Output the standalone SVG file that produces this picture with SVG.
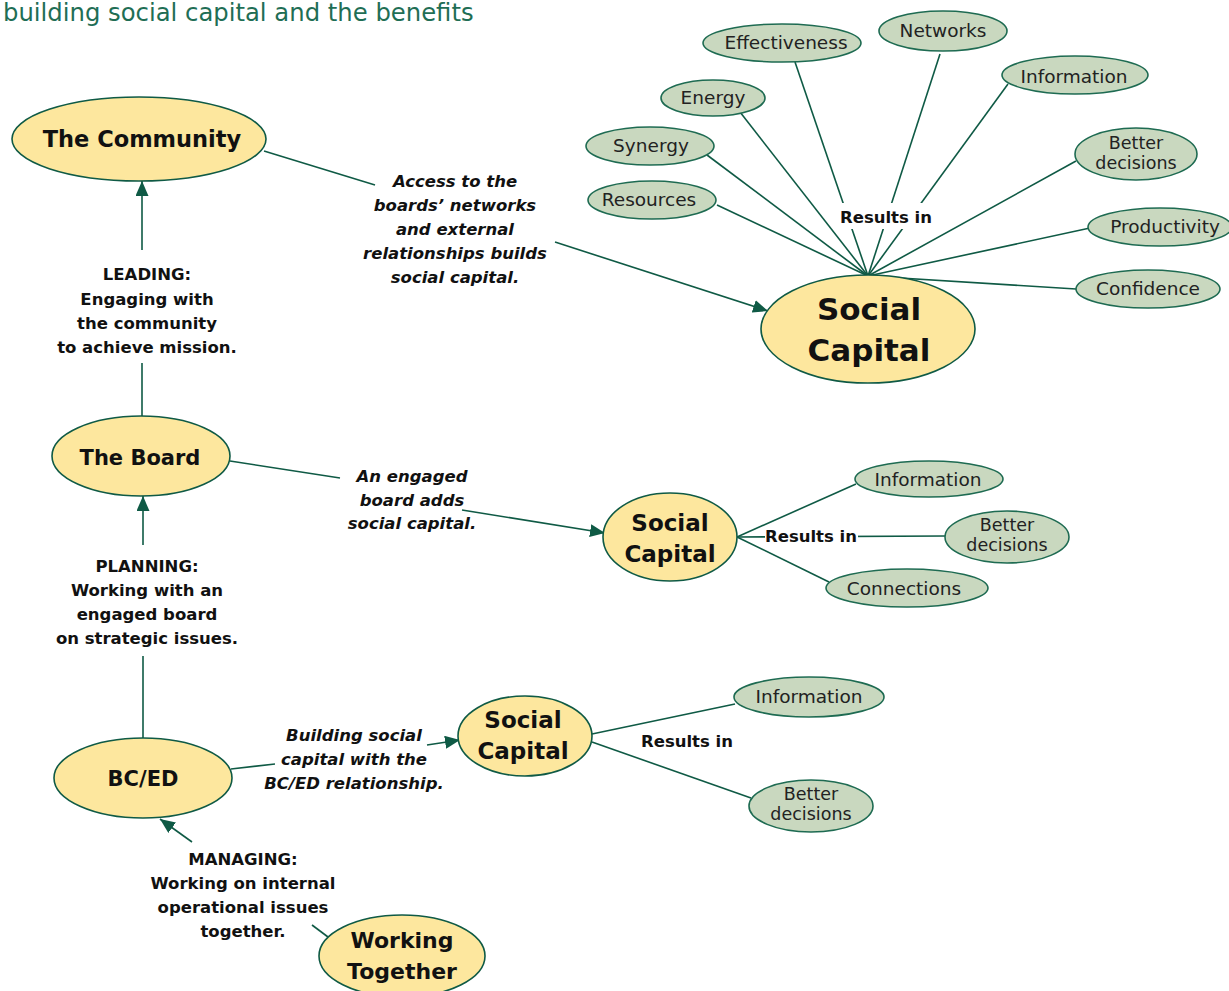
<svg xmlns="http://www.w3.org/2000/svg" width="1229" height="991" viewBox="0 0 1229 991">
<style>
.main{fill:#fde79e;stroke:#0f5a45;stroke-width:1.6}
.sub{fill:#c9d8bf;stroke:#1e6b52;stroke-width:1.6}
.ln{stroke:#0f5a45;stroke-width:1.6;fill:none}
.t{font-family:"DejaVu Sans","Liberation Sans",sans-serif;fill:#111;text-anchor:middle}
.mt{font-weight:bold}
.st{font-size:18.5px;fill:#222}
.st2{font-size:17.5px;fill:#222}
.lb{font-weight:bold;font-size:16.5px}
.it{font-style:italic}
</style>
<defs>
<marker id="ah" markerUnits="userSpaceOnUse" markerWidth="15" markerHeight="13" refX="15" refY="6.5" orient="auto">
<path d="M0,0 L15,6.5 L0,13 z" fill="#0f5a45"/>
</marker>
</defs>
<rect width="1229" height="991" fill="#fff"/>
<text x="3" y="21" font-family="DejaVu Sans,sans-serif" font-size="24.3" fill="#1f6e55">building social capital and the benefits</text>

<g id="connectors">
<line class="ln" x1="868" y1="276" x2="717" y2="205"/>
<line class="ln" x1="868" y1="276" x2="707" y2="155"/>
<line class="ln" x1="868" y1="276" x2="740" y2="112"/>
<line class="ln" x1="868" y1="276" x2="795" y2="62"/>
<line class="ln" x1="868" y1="276" x2="940" y2="54"/>
<line class="ln" x1="868" y1="276" x2="1008" y2="84"/>
<line class="ln" x1="868" y1="276" x2="1076" y2="161"/>
<line class="ln" x1="868" y1="276" x2="1090" y2="228"/>
<line class="ln" x1="868" y1="276" x2="1076" y2="289"/>
<rect x="838" y="203" width="96" height="26" fill="#fff"/>
<line class="ln" x1="737" y1="537" x2="856" y2="484"/>
<line class="ln" x1="737" y1="537" x2="945" y2="536"/>
<line class="ln" x1="737" y1="537" x2="829" y2="582"/>
<rect x="765" y="527" width="93" height="19" fill="#fff"/>
<line class="ln" x1="592" y1="734" x2="735" y2="704"/>
<line class="ln" x1="592" y1="742" x2="751" y2="798"/>
<line class="ln" x1="264" y1="151" x2="375" y2="185"/>
<line class="ln" x1="555" y1="242" x2="768" y2="311" marker-end="url(#ah)"/>
<line class="ln" x1="142" y1="250" x2="142" y2="181" marker-end="url(#ah)"/>
<line class="ln" x1="142" y1="363" x2="142" y2="416"/>
<line class="ln" x1="143" y1="545" x2="143" y2="496" marker-end="url(#ah)"/>
<line class="ln" x1="143" y1="656" x2="143" y2="738"/>
<line class="ln" x1="230" y1="461" x2="340" y2="478"/>
<line class="ln" x1="462" y1="510" x2="605" y2="533" marker-end="url(#ah)"/>
<line class="ln" x1="231" y1="769" x2="275" y2="764"/>
<line class="ln" x1="427" y1="745" x2="460" y2="740" marker-end="url(#ah)"/>
<line class="ln" x1="328" y1="937" x2="312" y2="925"/>
<line class="ln" x1="192" y1="842" x2="160" y2="819" marker-end="url(#ah)"/>
</g>

<g id="labels">
<text class="t lb" x="886" y="223">Results in</text>
<text class="t lb" x="811" y="542">Results in</text>
<text class="t lb" x="687" y="747">Results in</text>
<text class="t lb it"><tspan x="455" y="187">Access to the</tspan><tspan x="455" y="211">boards’ networks</tspan><tspan x="455" y="235">and external</tspan><tspan x="455" y="259">relationships builds</tspan><tspan x="455" y="283">social capital.</tspan></text>
<text class="t lb"><tspan x="147" y="280">LEADING:</tspan><tspan x="147" y="305">Engaging with</tspan><tspan x="147" y="329">the community</tspan><tspan x="147" y="353">to achieve mission.</tspan></text>
<text class="t lb"><tspan x="147" y="572">PLANNING:</tspan><tspan x="147" y="596">Working with an</tspan><tspan x="147" y="620">engaged board</tspan><tspan x="147" y="644">on strategic issues.</tspan></text>
<text class="t lb it"><tspan x="412" y="482">An engaged</tspan><tspan x="412" y="506">board adds</tspan><tspan x="412" y="529">social capital.</tspan></text>
<text class="t lb it"><tspan x="354" y="741">Building social</tspan><tspan x="354" y="765">capital with the</tspan><tspan x="354" y="789">BC/ED relationship.</tspan></text>
<text class="t lb"><tspan x="243" y="865">MANAGING:</tspan><tspan x="243" y="889">Working on internal</tspan><tspan x="243" y="913">operational issues</tspan><tspan x="243" y="937">together.</tspan></text>
</g>

<g id="community"><ellipse class="main" cx="139" cy="139" rx="127" ry="42"/><text class="t mt" x="142" y="147" font-size="22.5">The Community</text></g>
<g id="board"><ellipse class="main" cx="141" cy="456" rx="89" ry="40"/><text class="t mt" x="140" y="465" font-size="21">The Board</text></g>
<g id="bced"><ellipse class="main" cx="143" cy="778" rx="89" ry="40"/><text class="t mt" x="143" y="786" font-size="21">BC/ED</text></g>
<g id="working-together"><ellipse class="main" cx="402" cy="956" rx="83" ry="41"/><text class="t mt" font-size="22"><tspan x="402" y="948">Working</tspan><tspan x="402" y="979">Together</tspan></text></g>

<g id="sc-top"><ellipse class="main" cx="868" cy="329" rx="107" ry="54"/><text class="t mt" font-size="31"><tspan x="869" y="320">Social</tspan><tspan x="869" y="361">Capital</tspan></text></g>
<g id="sc-mid"><ellipse class="main" cx="670" cy="537" rx="67" ry="44"/><text class="t mt" font-size="23"><tspan x="670" y="531">Social</tspan><tspan x="670" y="562">Capital</tspan></text></g>
<g id="sc-low"><ellipse class="main" cx="525" cy="736" rx="67" ry="40"/><text class="t mt" font-size="23"><tspan x="523" y="728">Social</tspan><tspan x="523" y="759">Capital</tspan></text></g>

<g id="effectiveness"><ellipse class="sub" cx="782" cy="43" rx="79" ry="19"/><text class="t st" x="786" y="49">Effectiveness</text></g>
<g id="networks"><ellipse class="sub" cx="943" cy="31" rx="64" ry="20"/><text class="t st" x="943" y="37">Networks</text></g>
<g id="information-top"><ellipse class="sub" cx="1075" cy="75" rx="73" ry="19"/><text class="t st" x="1074" y="83">Information</text></g>
<g id="energy"><ellipse class="sub" cx="713" cy="98" rx="52" ry="18"/><text class="t st" x="713" y="104">Energy</text></g>
<g id="synergy"><ellipse class="sub" cx="650" cy="146" rx="64" ry="19"/><text class="t st" x="651" y="152">Synergy</text></g>
<g id="resources"><ellipse class="sub" cx="652" cy="200" rx="64" ry="19"/><text class="t st" x="649" y="206">Resources</text></g>
<g id="better-top"><ellipse class="sub" cx="1136" cy="154" rx="61" ry="26"/><text class="t st2"><tspan x="1136" y="149">Better</tspan><tspan x="1136" y="169">decisions</tspan></text></g>
<g id="productivity"><ellipse class="sub" cx="1160" cy="227" rx="72" ry="19"/><text class="t st" x="1165" y="233">Productivity</text></g>
<g id="confidence"><ellipse class="sub" cx="1148" cy="289" rx="72" ry="19"/><text class="t st" x="1148" y="295">Confidence</text></g>

<g id="information-mid"><ellipse class="sub" cx="929" cy="479" rx="74" ry="18"/><text class="t st" x="928" y="486">Information</text></g>
<g id="better-mid"><ellipse class="sub" cx="1007" cy="537" rx="62" ry="26"/><text class="t st2"><tspan x="1007" y="531">Better</tspan><tspan x="1007" y="551">decisions</tspan></text></g>
<g id="connections"><ellipse class="sub" cx="907" cy="588" rx="81" ry="19"/><text class="t st" x="904" y="595">Connections</text></g>

<g id="information-low"><ellipse class="sub" cx="809" cy="697" rx="75" ry="20"/><text class="t st" x="809" y="703">Information</text></g>
<g id="better-low"><ellipse class="sub" cx="811" cy="806" rx="62" ry="26"/><text class="t st2"><tspan x="811" y="800">Better</tspan><tspan x="811" y="820">decisions</tspan></text></g>
</svg>
